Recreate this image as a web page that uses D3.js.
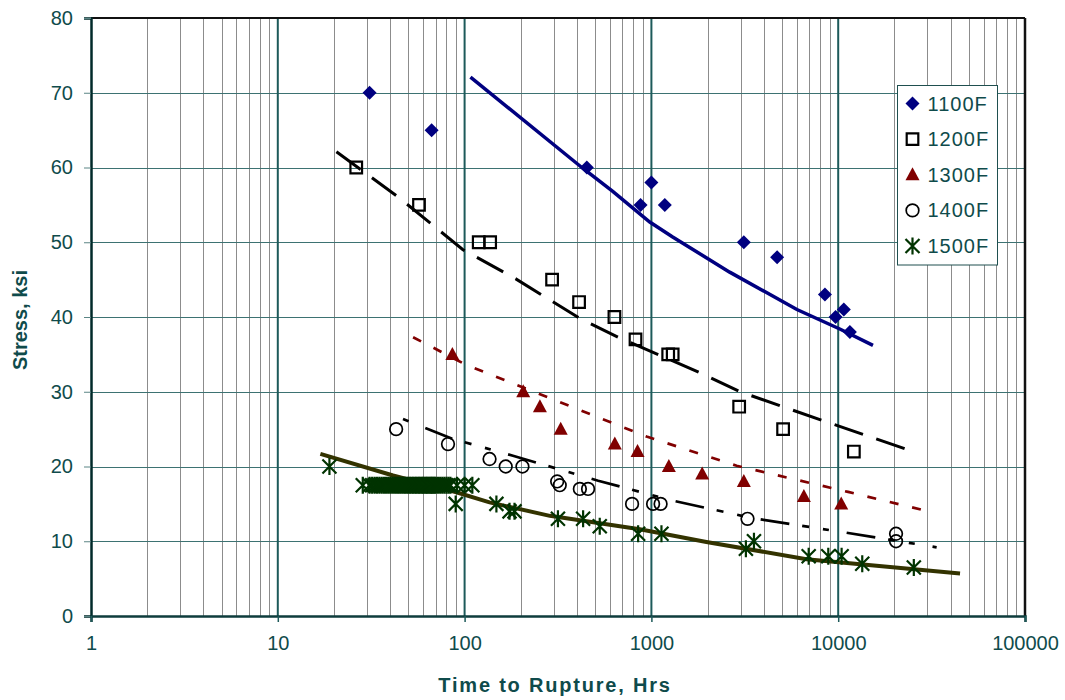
<!DOCTYPE html>
<html>
<head>
<meta charset="utf-8">
<script src="https://cdn.jsdelivr.net/npm/d3@7"></script>
<style>
  html, body { margin: 0; padding: 0; background: #fff; }
  svg { display: block; font-family: "Liberation Sans", Arial, sans-serif; }
</style>
</head>
<body>
<svg id="chart" width="1065" height="700"></svg>
<script>
// ---------------- data ----------------
const seriesNames = ["1100F", "1200F", "1300F", "1400F", "1500F"];

const hrs1100 = [31, 66.6, 451, 1000, 875, 1180, 3125, 4710, 8490, 9680, 10720, 11550];
const ksi1100 = [70, 65, 60, 58, 55, 55, 50, 48, 43, 40, 41, 38];

const hrs1200 = [26.3, 57, 119, 137, 294, 410, 634, 822, 1230, 1300, 2950, 5070, 12130];
const ksi1200 = [60, 55, 50, 50, 45, 42, 40, 37, 35, 35, 28, 25, 22];

const hrs1300 = [86, 206, 253, 327, 637, 843, 1240, 1870, 3125, 6550, 10380];
const ksi1300 = [35, 30, 28, 25, 23, 22, 20, 19, 18, 16, 15];

const hrs1400 = [43, 81.5, 136, 166, 204, 313, 323, 414, 458, 788, 1021, 1120, 3270, 20400, 20400];
const ksi1400 = [25, 23, 21, 20, 20, 18, 17.5, 17, 17, 15, 15, 15, 13, 11, 10];

const hrs1500 = [18.9, 28.5, 31, 32, 33, 34, 35, 36, 37, 38, 39, 40, 41, 42, 43, 44, 45, 46, 47, 48, 49,
                 50, 51, 52, 53, 54, 55, 56, 57, 58, 59, 60, 61, 62, 63, 64, 65, 66, 67, 68, 69, 70,
                 72, 74, 76, 78, 80, 82, 84, 91, 100, 110,
                 89.6, 148, 174, 185, 316, 431, 529, 849, 1132, 3205, 3540, 6950, 8850, 10430, 13450, 25400];
const ksi1500 = [20, 17.5, 17.5, 17.5, 17.5, 17.5, 17.5, 17.5, 17.5, 17.5, 17.5, 17.5, 17.5, 17.5, 17.5, 17.5, 17.5, 17.5, 17.5, 17.5, 17.5,
                 17.5, 17.5, 17.5, 17.5, 17.5, 17.5, 17.5, 17.5, 17.5, 17.5, 17.5, 17.5, 17.5, 17.5, 17.5, 17.5, 17.5, 17.5, 17.5, 17.5, 17.5,
                 17.5, 17.5, 17.5, 17.5, 17.5, 17.5, 17.5, 17.5, 17.5, 17.5,
                 15, 15, 14, 14, 13, 13, 12, 11, 11, 9, 10, 8, 8, 8, 7, 6.5];

// trend curves
const fitHrs1100 = [107.5, 429, 621, 980, 1300, 2625, 6010, 10200, 15350];
const fitKsi1100 = [72.1, 59.9, 56.8, 52.7, 50.7, 46.0, 41.0, 38.4, 36.2];

const fitHrs1200 = [20.6, 44.9, 98, 188, 414, 664, 1803, 2980, 8590, 25200];
const fitKsi1200 = [62.1, 55.9, 49.0, 45.1, 39.8, 37.3, 32.6, 30.0, 26.0, 22.0];

const fitHrs1300 = [53, 102, 310, 942, 2860, 11300, 31000];
const fitKsi1300 = [37.3, 33.6, 28.8, 24.0, 20.1, 16.6, 13.95];

const fitHrs1400 = [46.8, 86.7, 181.5, 519, 1306, 3508, 10210, 33650];
const fitKsi1400 = [26.35, 23.68, 21.44, 18.10, 15.42, 13.07, 11.28, 9.19];

const fitHrs1500 = [16.9, 41.4, 90.4, 136, 286, 867, 1970, 6770, 44900];
const fitKsi1500 = [21.7, 18.8, 16.55, 15.2, 13.4, 11.6, 9.9, 7.6, 5.7];

const xTickValues = [1, 10, 100, 1000, 10000, 100000];
const yTickValues = [0, 10, 20, 30, 40, 50, 60, 70, 80];

const xTitle = "Time to Rupture, Hrs";
const yTitle = "Stress, ksi";

// ---------------- layout ----------------
const L = 91, R = 1025, T = 18, B = 616;
const svg = d3.select("#chart");
const x = d3.scaleLog().domain([1, 100000]).range([L, R]);
const y = d3.scaleLinear().domain([0, 80]).range([B, T]);

const textCol = "#0f4b4b";

// minor vertical gridlines
const minor = [];
for (let d = 1; d < 100000; d *= 10) for (let k = 2; k <= 9; k++) minor.push(d * k);
svg.append("g").selectAll("line").data(minor).join("line")
  .attr("x1", d => Math.round(x(d)) + 0.5).attr("x2", d => Math.round(x(d)) + 0.5)
  .attr("y1", T).attr("y2", B)
  .attr("stroke", "#8c8c8c").attr("stroke-width", 1);

// horizontal gridlines
svg.append("g").selectAll("line").data(yTickValues.filter(v => v > 0 && v < 80)).join("line")
  .attr("x1", L).attr("x2", R)
  .attr("y1", d => Math.round(y(d)) + 0.5).attr("y2", d => Math.round(y(d)) + 0.5)
  .attr("stroke", "#3d7272").attr("stroke-width", 1);

// major vertical gridlines
svg.append("g").selectAll("line").data([10, 100, 1000, 10000]).join("line")
  .attr("x1", d => x(d)).attr("x2", d => x(d))
  .attr("y1", T).attr("y2", B)
  .attr("stroke", "#1d5a5a").attr("stroke-width", 2);

// borders
svg.append("line").attr("x1", L).attr("x2", R).attr("y1", T).attr("y2", T).attr("stroke", "#111").attr("stroke-width", 2);
svg.append("line").attr("x1", R).attr("x2", R).attr("y1", T).attr("y2", B).attr("stroke", "#111").attr("stroke-width", 2.5);

// axes
const yAxis = d3.axisLeft(y).tickValues(yTickValues).tickSize(7).tickPadding(11).tickFormat(d3.format("d"));
const gy = svg.append("g").attr("transform", `translate(${L},0)`).call(yAxis);
gy.select(".domain").attr("stroke", "#002a2a").attr("stroke-width", 2.5);
gy.selectAll(".tick line").attr("stroke", "#5b8585");
gy.selectAll(".tick text").attr("fill", textCol).attr("font-size", 20)
  .attr("font-family", "'Liberation Sans', Arial, sans-serif");

const xAxis = d3.axisBottom(x).tickValues(xTickValues).tickSize(6).tickPadding(14).tickFormat(d3.format("d"));
const gx = svg.append("g").attr("transform", `translate(0,${B})`).call(xAxis);
gx.select(".domain").attr("stroke", "#0e3d3d").attr("stroke-width", 2.5);
gx.selectAll(".tick line").attr("stroke", "#1d5a5a").attr("stroke-width", 1.5);
gx.selectAll(".tick text").attr("fill", textCol).attr("font-size", 20)
  .attr("font-family", "'Liberation Sans', Arial, sans-serif");

// titles
svg.append("text").attr("x", 555).attr("y", 692).attr("text-anchor", "middle")
  .attr("font-size", 20).attr("font-weight", "bold").attr("letter-spacing", "1.8px")
  .attr("fill", textCol).text(xTitle);
svg.append("text").attr("transform", "translate(27,320) rotate(-90)").attr("text-anchor", "middle")
  .attr("font-size", 20).attr("font-weight", "bold").attr("fill", textCol).text(yTitle);

// ---------------- trend lines ----------------
const zip = (a, b) => a.map((v, i) => [v, b[i]]);
const line = d3.line().x(d => x(d[0])).y(d => y(d[1]));
const plot = svg.append("g");

plot.append("path").datum(zip(fitHrs1100, fitKsi1100)).attr("d", line)
  .attr("fill", "none").attr("stroke", "#000080").attr("stroke-width", 3.5);
plot.append("path").datum(zip(fitHrs1200, fitKsi1200)).attr("d", line)
  .attr("fill", "none").attr("stroke", "#000").attr("stroke-width", 3).attr("stroke-dasharray", "30,14");
plot.append("path").datum(zip(fitHrs1300, fitKsi1300)).attr("d", line)
  .attr("fill", "none").attr("stroke", "#800000").attr("stroke-width", 2.7).attr("stroke-dasharray", "9,14");
plot.append("path").datum(zip(fitHrs1400, fitKsi1400)).attr("d", line)
  .attr("fill", "none").attr("stroke", "#000").attr("stroke-width", 2.7)
  .attr("stroke-dasharray", "29,13,7,14,6,18").attr("stroke-dashoffset", 63);
plot.append("path").datum(zip(fitHrs1500, fitKsi1500)).attr("d", line)
  .attr("fill", "none").attr("stroke", "#333300").attr("stroke-width", 4);

// ---------------- markers ----------------
const shapes = {
  diamond: "M0,-7L7,0L0,7L-7,0Z",
  square: "M-5.8,-5.8H5.8V5.8H-5.8Z",
  triangle: "M0,-7.5L7,5.5L-7,5.5Z",
  circle: d3.symbol(d3.symbolCircle, 125)(),
  star: "M0,-8.5V8.5M-7,-7L7,7M-7,7L7,-7"
};
const styles = [
  { shape: "diamond", fill: "#000080", stroke: "none", sw: 0 },
  { shape: "square", fill: "none", stroke: "#000", sw: 2.2 },
  { shape: "triangle", fill: "#800000", stroke: "none", sw: 0 },
  { shape: "circle", fill: "none", stroke: "#000", sw: 1.7 },
  { shape: "star", fill: "none", stroke: "#003300", sw: 2.2 }
];
const seriesData = [
  zip(hrs1100, ksi1100), zip(hrs1200, ksi1200), zip(hrs1300, ksi1300),
  zip(hrs1400, ksi1400), zip(hrs1500, ksi1500)
];
seriesData.forEach((pts, i) => {
  const st = styles[i];
  plot.append("g").selectAll("path").data(pts).join("path")
    .attr("transform", d => `translate(${x(d[0])},${y(d[1])})`)
    .attr("d", shapes[st.shape])
    .attr("fill", st.fill).attr("stroke", st.stroke).attr("stroke-width", st.sw);
});

// ---------------- legend ----------------
const lg = svg.append("g");
lg.append("rect").attr("x", 897.5).attr("y", 85.5).attr("width", 100).attr("height", 179.5)
  .attr("fill", "#fff").attr("stroke", "#1f4f4f").attr("stroke-width", 1);
const legY = d3.scaleLinear().domain([0, 4]).range([103.5, 246]);
seriesNames.forEach((name, i) => {
  const st = styles[i];
  lg.append("path").attr("transform", `translate(912.5,${legY(i)})`).attr("d", shapes[st.shape])
    .attr("fill", st.fill).attr("stroke", st.stroke).attr("stroke-width", st.sw);
  lg.append("text").attr("x", 927.5).attr("y", legY(i) + 7).attr("font-size", 20)
    .attr("letter-spacing", "1px").attr("fill", textCol).text(name);
});
</script>
</body>
</html>
